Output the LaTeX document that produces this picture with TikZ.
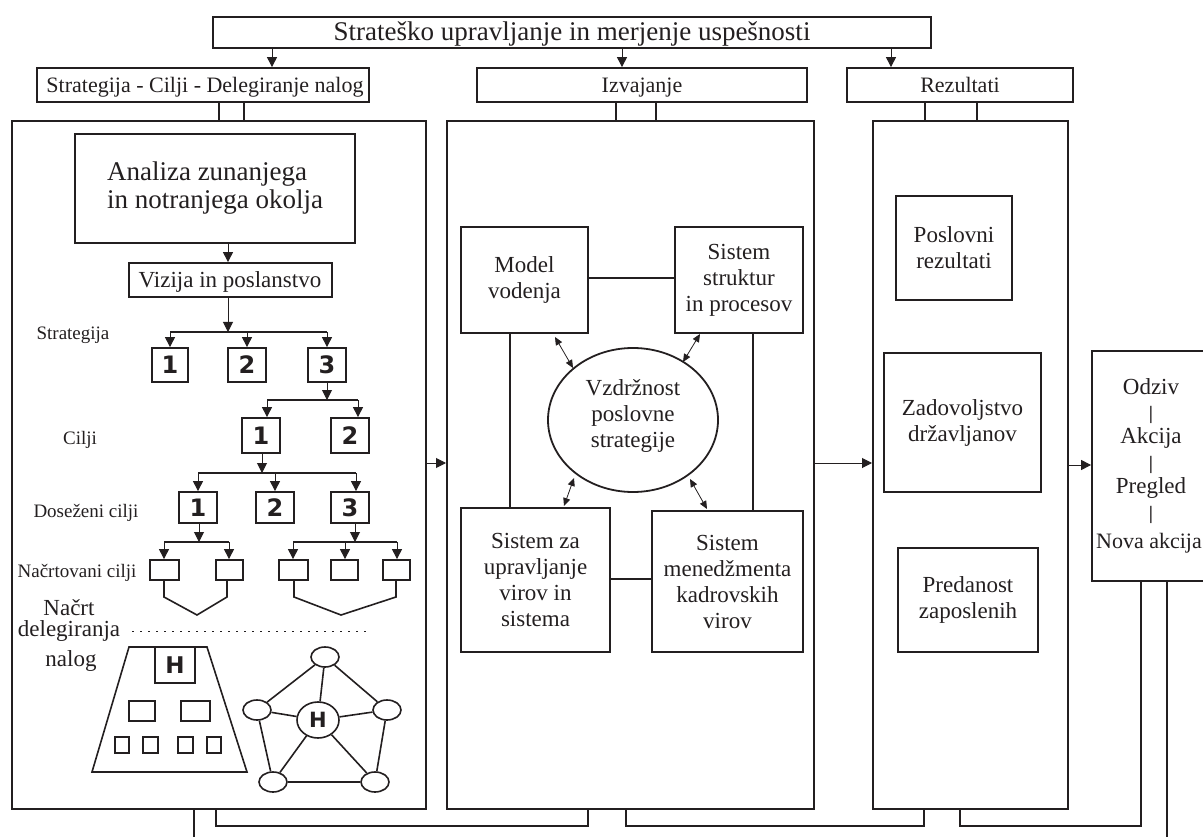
\documentclass[tikz,border=0pt]{standalone}
\usepackage{fontspec}
\setmainfont{Liberation Serif}
\newfontfamily\numfont{DejaVu Sans}
\usetikzlibrary{arrows.meta,shapes.geometric,calc}
\definecolor{ink}{RGB}{35,31,32}

\newcommand{\fsz}[2]{\fontsize{#1}{#2}\selectfont}

\tikzset{
  % a rectangle node given by its left, top, right and bottom edges
  corners/.style n args={4}{minimum width={(#3)-(#1)}, minimum height={(#4)-(#2)},
    at={({((#1)+(#3))/2},{((#2)+(#4))/2})}},
  panel/.style={draw=ink, line width=2pt, inner sep=0pt, rectangle},
  box/.style={draw=ink, line width=1.8pt, inner sep=0pt, align=center, rectangle},
  numbox/.style={box, font=\numfont\bfseries\fsz{24}{24}},
  link/.style={draw=ink, line width=1.6pt},
  bar/.style={draw=ink, line width=1.6pt},
  arr/.style={draw=ink, line width=1pt, -{Triangle[length=10pt,width=10pt]}},
  dbl/.style={draw=ink, line width=0.8pt, {Triangle[length=8pt,width=7pt]}-{Triangle[length=8pt,width=7pt]}},
  lbl/.style={inner sep=0pt, anchor=base},
  small/.style={font=\fsz{19}{22}},
  sep/.style={inner sep=0pt, font=\fsz{19}{19}\bfseries},
  netnode/.style={draw=ink, line width=1.6pt, ellipse, inner sep=0pt, minimum width=28pt, minimum height=20pt},
}

\begin{document}
\begin{tikzpicture}[x=1pt, y=-1pt, every node/.style={text=ink}, font=\fsz{23}{26}]
\useasboundingbox (0,0) rectangle (1203,837);

% ---------- header ----------
\node[box, corners={213}{17}{931}{48}] (T) {};
\node[lbl, font=\fsz{27}{27}] (Tt) at (572,41) {Strateško upravljanje in merjenje uspešnosti};
\node[box, corners={37}{68}{369}{102}] (S1) {};
\node[lbl, font=\fsz{22}{22}] (S1t) at (205,93) {Strategija - Cilji - Delegiranje nalog};
\node[box, corners={477}{68}{807}{102}] (S2) {};
\node[lbl, font=\fsz{22}{22}] (S2t) at (642,93) {Izvajanje};
\node[box, corners={847}{68}{1073}{102}] (S3) {};
\node[lbl, font=\fsz{22}{22}] (S3t) at (960,93) {Rezultati};

\draw[arr] (272,0 |- T.south) -- (272,0 |- S1.north);
\draw[arr] (622,0 |- T.south) -- (622,0 |- S2.north);
\draw[arr] (891,0 |- T.south) -- (891,0 |- S3.north);

% ---------- three panels ----------
\node[panel, corners={12}{121}{426}{809}] (P1) {};
\node[panel, corners={447}{121}{814}{809}] (P2) {};
\node[panel, corners={873}{121}{1068}{809}] (P3) {};

\draw[link] (219,0 |- S1.south) -- (219,0 |- P1.north);
\draw[link] (244,0 |- S1.south) -- (244,0 |- P1.north);
\draw[link] (616,0 |- S2.south) -- (616,0 |- P2.north);
\draw[link] (656,0 |- S2.south) -- (656,0 |- P2.north);
\draw[link] (925,0 |- S3.south) -- (925,0 |- P3.north);
\draw[link] (977,0 |- S3.south) -- (977,0 |- P3.north);

% ---------- left panel: strategy tree ----------
\node[box, corners={75}{134}{355}{243}] (A) {};
\node[align=left, font=\fsz{27}{28}, inner sep=0pt] (At) at (A.center) {Analiza zunanjega\\in notranjega okolja};
\node[box, corners={129}{263}{332}{297}] (V) {};
\node[lbl] (Vt) at (230,288) {Vizija in poslanstvo};
\draw[arr] (228,0 |- A.south) -- (228,0 |- V.north);

\node[lbl, small] (lStr) at (73,340) {Strategija};
\node[numbox, corners={152}{348}{188}{382}] (B1) {1};
\node[numbox, corners={228}{348}{266}{382}] (B2) {2};
\node[numbox, corners={308}{348}{346}{382}] (B3) {3};
\draw[arr] (228,0 |- V.south) -- (228,332);
\draw[bar] (170,332) -- (327,332);
\draw[arr] (170,332) -- (B1.north);
\draw[arr] (247,332) -- (B2.north);
\draw[arr] (327,332) -- (B3.north);

\node[lbl, small] (lCil) at (80,444) {Cilji};
\node[numbox, corners={242}{418}{280}{453}] (C1) {1};
\node[numbox, corners={331}{418}{369}{453}] (C2) {2};
\draw[arr] (B3.south) -- (327,400);
\draw[bar] (267,400) -- (358,400);
\draw[arr] (267,400) -- (267,0 |- C1.north);
\draw[arr] (358,400) -- (358,0 |- C2.north);

\node[lbl, small] (lDos) at (86,517) {Doseženi cilji};
\node[numbox, corners={179}{492}{217}{523}] (D1) {1};
\node[numbox, corners={256}{492}{294}{523}] (D2) {2};
\node[numbox, corners={331}{492}{369}{523}] (D3) {3};
\draw[arr] (262,0 |- C1.south) -- (262,473);
\draw[bar] (198,473) -- (356,473);
\draw[arr] (198,473) -- (D1.north);
\draw[arr] (275,473) -- (D2.north);
\draw[arr] (356,473) -- (356,0 |- D3.north);

\node[lbl, small] (lNac) at (77,577) {Načrtovani cilji};
\node[box, corners={150}{560}{179}{580}] (E1) {};
\node[box, corners={216}{560}{243}{580}] (E2) {};
\node[box, corners={279}{560}{308}{580}] (E3) {};
\node[box, corners={331}{560}{358}{580}] (E4) {};
\node[box, corners={383}{560}{410}{580}] (E5) {};
\draw[arr] (199,0 |- D1.south) -- (199,542);
\draw[bar] (164,542) -- (229,542);
\draw[arr] (164,542) -- (164,0 |- E1.north);
\draw[arr] (229,542) -- (229,0 |- E2.north);
\draw[arr] (355,0 |- D3.south) -- (355,542);
\draw[bar] (293,542) -- (397,542);
\draw[arr] (293,542) -- (293,0 |- E3.north);
\draw[arr] (345,542) -- (345,0 |- E4.north);
\draw[arr] (397,542) -- (397,0 |- E5.north);

% merging brackets under the planned goals
\draw[link] (164,0 |- E1.south) -- (164,597) -- (197,615) -- (227,597) -- (227,0 |- E2.south);
\draw[link] (294,0 |- E3.south) -- (294,597) -- (341,615) -- (396,597) -- (396,0 |- E5.south);

% ---------- delegation plan ----------
\node[lbl] (lNa1) at (69,615) {Načrt};
\node[lbl] (lNa2) at (69,636) {delegiranja};
\node[lbl] (lNa3) at (71,666) {nalog};
\draw[ink, line width=0.8pt, dash pattern=on 2pt off 6pt] (132,631) -- (367,631);

% hierarchy (trapezoid)
\draw[link] (129,647) -- (207,647) -- (247,772) -- (92,772) -- cycle;
\node[box, corners={155}{647}{195}{683}, font=\numfont\bfseries\fsz{23}{23}] (HB) {H};
\node[box, corners={129}{701}{155}{721}] (h1) {};
\node[box, corners={181}{701}{210}{721}] (h2) {};
\node[box, corners={115}{737}{129}{753}] (q1) {};
\node[box, corners={143}{737}{158}{753}] (q2) {};
\node[box, corners={178}{737}{193}{753}] (q3) {};
\node[box, corners={207}{737}{221}{753}] (q4) {};

% network
\node[netnode] (n1) at (325,657) {};
\node[netnode] (n2) at (257,710) {};
\node[netnode] (n3) at (387,710) {};
\node[netnode] (n4) at (273,782) {};
\node[netnode] (n5) at (375,782) {};
\node[netnode, minimum width=42pt, minimum height=36pt, font=\numfont\bfseries\fsz{21}{21}] (nh) at (318,720) {H};
\draw[link] (n1) -- (n2);
\draw[link] (n1) -- (n3);
\draw[link] (n1) -- (nh);
\draw[link] (n2) -- (n4);
\draw[link] (n3) -- (n5);
\draw[link] (n4) -- (n5);
\draw[link] (nh) -- (n4);
\draw[link] (nh) -- (n5);
\draw[link] (n2) -- (nh);
\draw[link] (nh) -- (n3);

% ---------- middle panel ----------
\node[box, corners={461}{227}{588}{333}] (M1) {Model\\vodenja};
\node[box, corners={675}{227}{803}{333}] (M2) {Sistem\\struktur\\in procesov};
\node[box, corners={461}{508}{610}{652}] (M3) {Sistem za\\upravljanje\\virov in\\sistema};
\node[box, corners={652}{511}{803}{652}] (M4) {Sistem\\menedžmenta\\kadrovskih\\virov};
\node[draw=ink, line width=1.8pt, ellipse, inner sep=0pt, minimum width=170pt, minimum height=144pt] (E) at (633,420) {};
\node[align=center, inner sep=0pt] (Et) at (633,416) {Vzdržnost\\poslovne\\strategije};

\draw[link] (M1.east |- 0,278) -- (M2.west |- 0,278);
\draw[link] (M3.east |- 0,579) -- (M4.west |- 0,579);
\draw[link] (510,0 |- M1.south) -- (510,0 |- M3.north);
\draw[link] (753,0 |- M2.south) -- (753,0 |- M4.north);

\draw[dbl] (555,337) -- (573,368);
\draw[dbl] (700,334) -- (683,362);
\draw[dbl] (574,478) -- (564,506);
\draw[dbl] (690,479) -- (707,509);

% ---------- right panel ----------
\node[box, corners={896}{196}{1012}{300}] (R1) {Poslovni\\rezultati};
\node[box, corners={884}{353}{1041}{492}] (R2) {Zadovoljstvo\\državljanov};
\node[box, corners={898}{548}{1038}{652}] (R3) {Predanost\\zaposlenih};

% ---------- feedback box ----------
\node[box, corners={1092}{351}{1215}{581}] (O) {};
\node[lbl] (o1) at (1151,394) {Odziv};
\node[sep] (b1) at (1151,415) {|};
\node[lbl] (o2) at (1151,443) {Akcija};
\node[sep] (b2) at (1151,465) {|};
\node[lbl] (o3) at (1151,493) {Pregled};
\node[sep] (b3) at (1151,515) {|};
\node[lbl, font=\fsz{22}{22}] (o4) at (1149,548) {Nova akcija};

% ---------- flow between panels ----------
\draw[arr] (P1.east |- 0,463) -- (P2.west |- 0,463);
\draw[arr] (P2.east |- 0,463) -- (P3.west |- 0,463);
\draw[arr] (P3.east |- 0,465) -- (O.west |- 0,465);

% ---------- return lines at the bottom ----------
\coordinate (dL) at (194,840);
\coordinate (dR) at (1167,840);
\draw[link] (194,0 |- P1.south) -- (dL);
\draw[link] (216,0 |- P1.south) |- (588,826) -- (588,0 |- P2.south);
\draw[link] (626,0 |- P2.south) |- (924,826) -- (924,0 |- P3.south);
\draw[link] (960,0 |- P3.south) |- (1141,826) -- (1141,0 |- O.south);
\draw[link] (1167,0 |- O.south) -- (dR);
\end{tikzpicture}
\end{document}
